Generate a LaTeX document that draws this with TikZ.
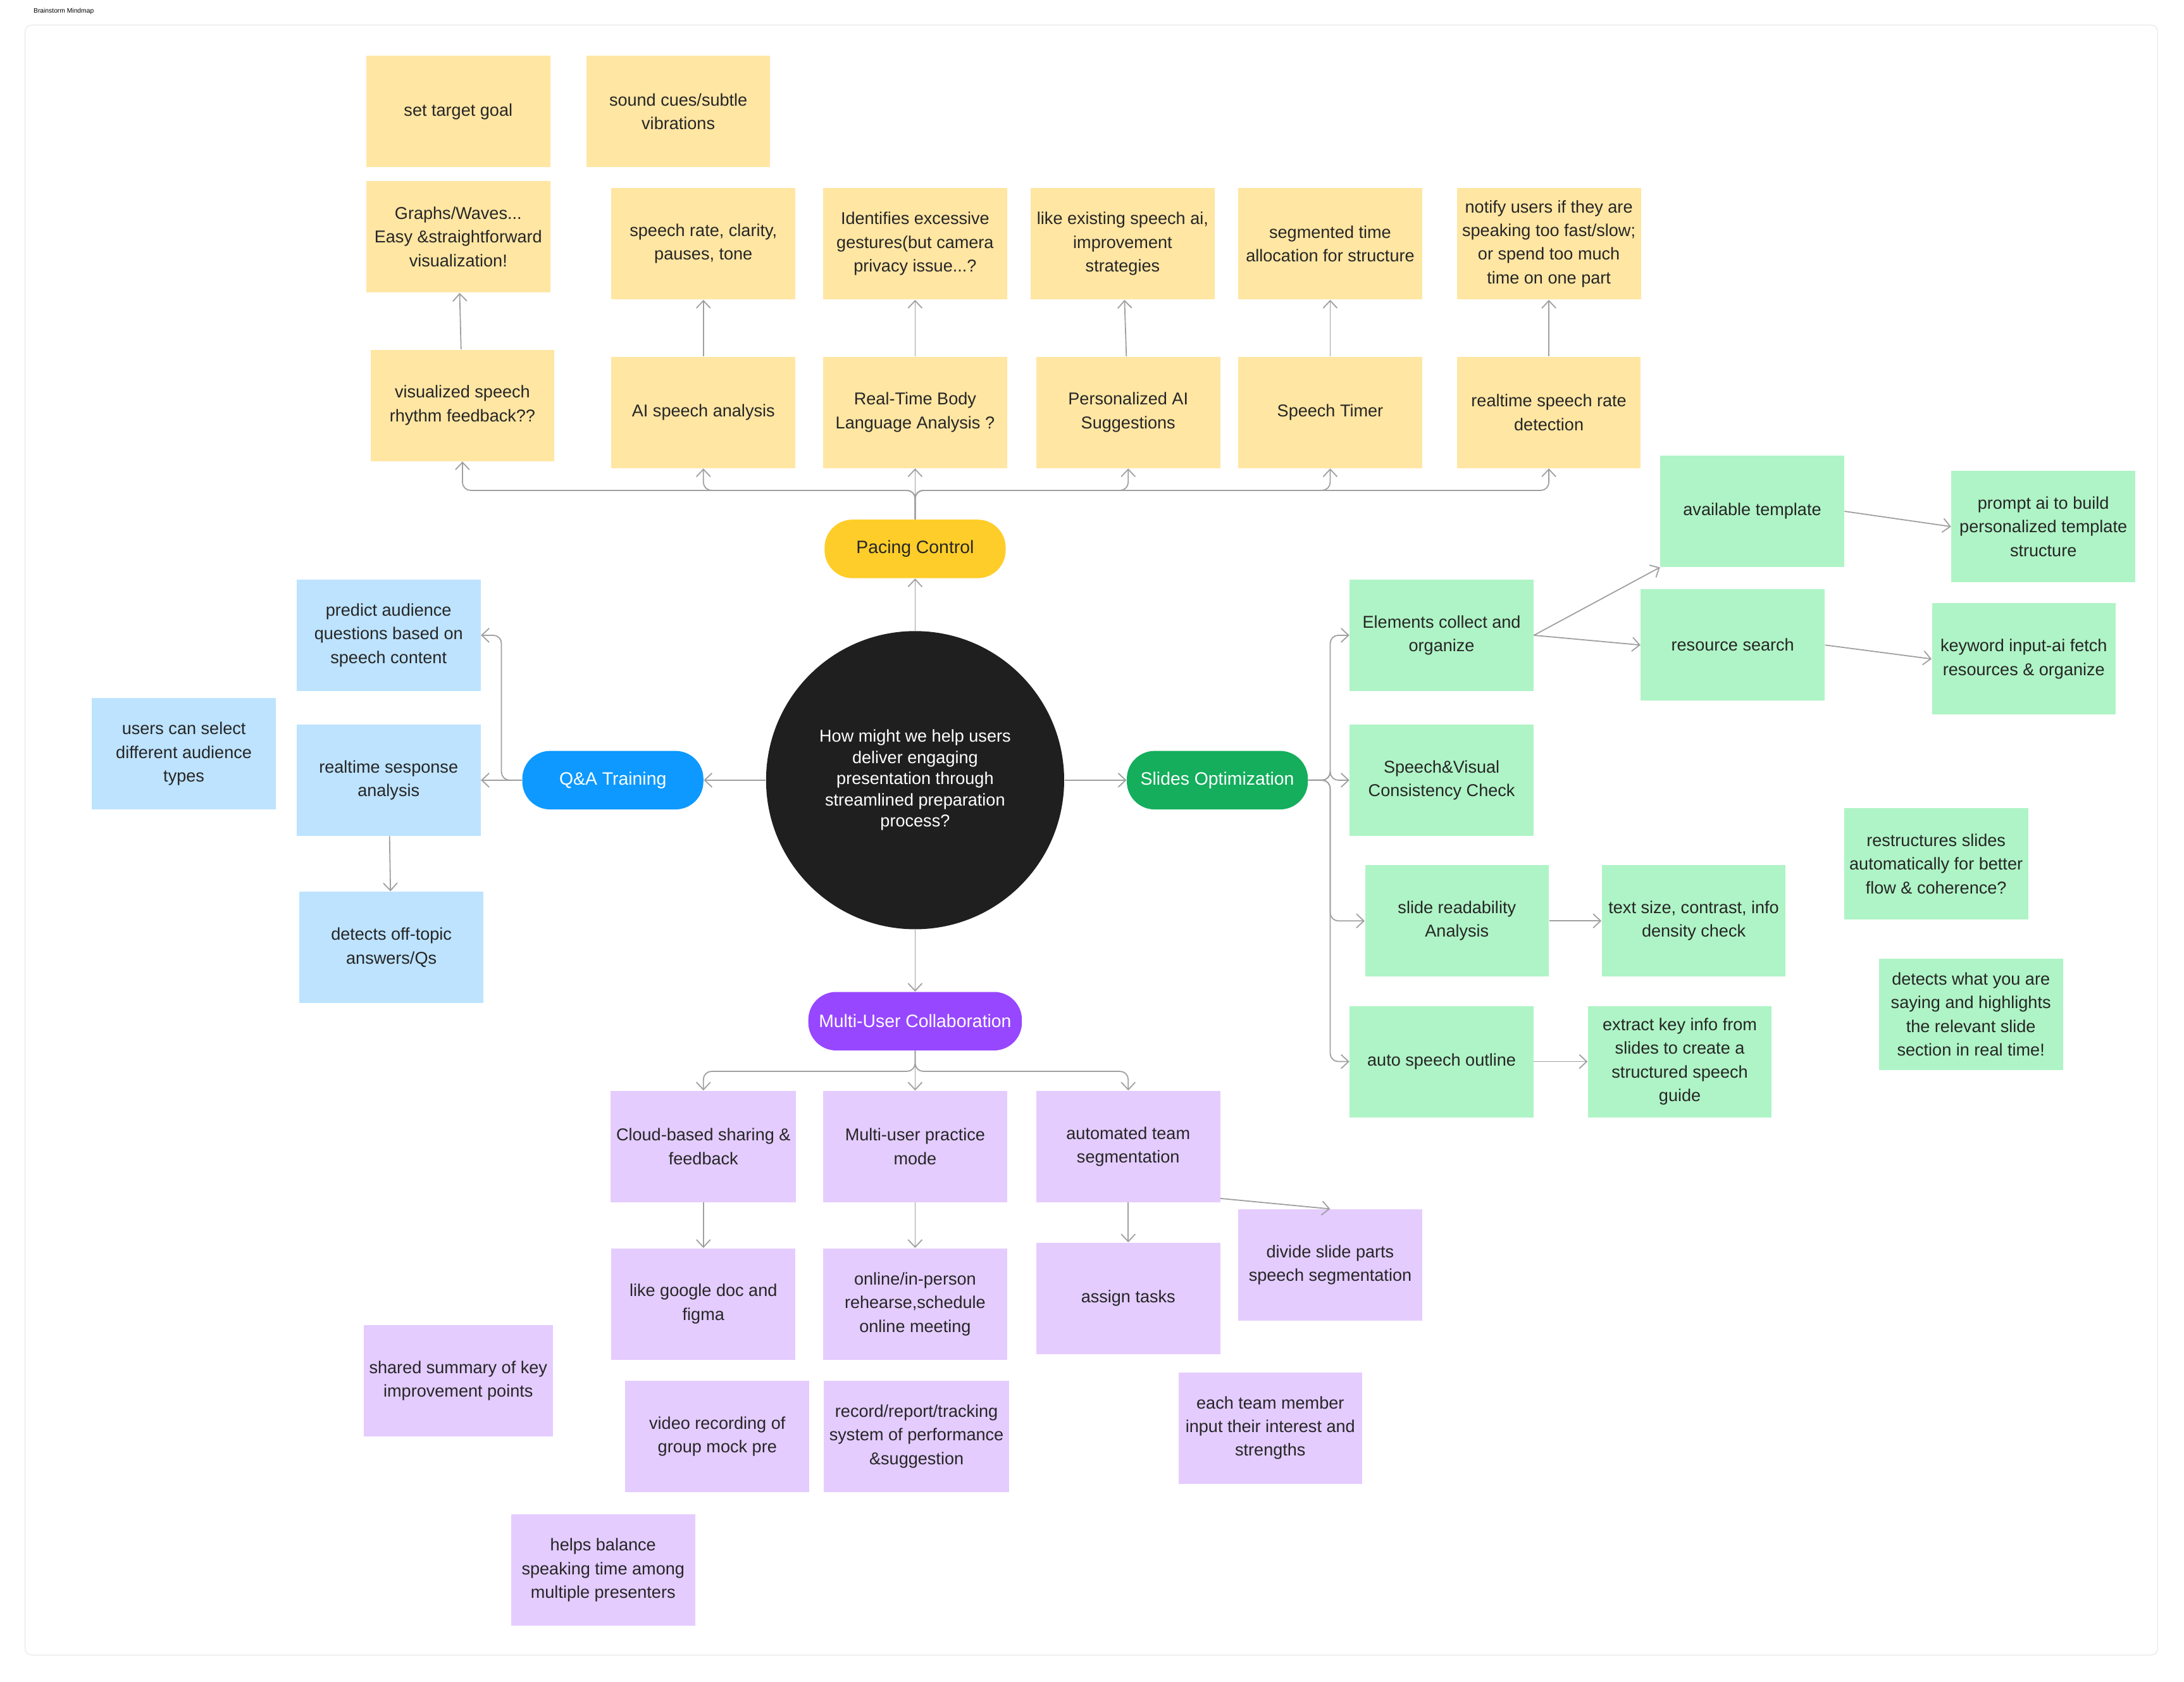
\documentclass[tikz,border=0pt]{standalone}
\usepackage{fontspec}
\setmainfont{Liberation Sans}
\usetikzlibrary{arrows.meta}
\definecolor{yel}{HTML}{FFE6A3}
\definecolor{grn}{HTML}{AFF4C6}
\definecolor{blu}{HTML}{BDE3FF}
\definecolor{pur}{HTML}{E4CCFF}
\definecolor{pacec}{HTML}{FFCD29}
\definecolor{qac}{HTML}{0D99FF}
\definecolor{slic}{HTML}{14AE5C}
\definecolor{mulc}{HTML}{9747FF}
\definecolor{linec}{HTML}{A0A0A0}
\begin{document}
\begin{tikzpicture}[x=0.03cm,y=-0.03cm,
    note/.style={shape=rectangle, minimum width=3.96cm, minimum height=2.4cm, align=center,
                 font=\fontsize{10.5}{14.5}\selectfont, text=black!85},
    pill/.style={shape=rectangle, rounded corners=0.6cm, minimum width=3.9cm, minimum height=1.26cm,
                 font=\fontsize{11}{13}\selectfont, text=black!85},
    conn/.style={draw=linec, line width=0.7pt, -{Straight Barb[length=1.6mm,width=3mm]}}]
    \useasboundingbox (0,0) rectangle (1568,1207);
    \draw[black!10, rounded corners=4pt] (18,18) rectangle (1549,1188);
    \node[anchor=west, font=\fontsize{4}{5}\selectfont] at (20,8) {Brainstorm Mindmap};

    % centre
    \node[circle, fill=black!88, minimum size=6.42cm, align=center, text=white,
          font=\fontsize{10.5}{13}\selectfont] (hmw) at (657,560)
          {How might we help users\\deliver engaging\\presentation through\\streamlined preparation\\process?};
    \node[pill, fill=pacec] (pace) at (657,394) {Pacing Control};
    \node[pill, fill=qac, text=white] (qa) at (440,560) {Q\&A Training};
    \node[pill, fill=slic, text=white] (slides) at (874,560) {Slides Optimization};
    \node[pill, fill=mulc, text=white, minimum width=4.6cm] (multi) at (657,733) {Multi-User Collaboration};

    % pacing
    \node[note, fill=yel] (goal) at (329,80) {set target goal};
    \node[note, fill=yel] (cues) at (487,80) {sound cues/subtle\\vibrations};
    \node[note, fill=yel] (graphs) at (329,170) {Graphs/Waves...\\Easy \&straightforward\\visualization!};
    \node[note, fill=yel] (rate) at (505,175) {speech rate, clarity,\\pauses, tone};
    \node[note, fill=yel] (gest) at (657,175) {Identifies excessive\\gestures(but camera\\privacy issue...?};
    \node[note, fill=yel] (exist) at (806,175) {like existing speech ai,\\improvement\\strategies};
    \node[note, fill=yel] (segm) at (955,175) {segmented time\\allocation for structure};
    \node[note, fill=yel] (notify) at (1112,175) {notify users if they are\\speaking too fast/slow;\\or spend too much\\time on one part};
    \node[note, fill=yel] (rhythm) at (332,291) {visualized speech\\rhythm feedback??};
    \node[note, fill=yel] (aian) at (505,296) {AI speech analysis};
    \node[note, fill=yel] (body) at (657,296) {Real-Time Body\\Language Analysis ?};
    \node[note, fill=yel] (sugg) at (810,296) {Personalized AI\\Suggestions};
    \node[note, fill=yel] (timer) at (955,296) {Speech Timer};
    \node[note, fill=yel] (detect) at (1112,296) {realtime speech rate\\detection};

    % q&a
    \node[note, fill=blu] (predict) at (279,456) {predict audience\\questions based on\\speech content};
    \node[note, fill=blu] (resp) at (279,560) {realtime sesponse\\analysis};
    \node[note, fill=blu] (offt) at (281,680) {detects off-topic\\answers/Qs};
    \node[note, fill=blu] (aud) at (132,541) {users can select\\different audience\\types};

    % slides
    \node[note, fill=grn] (elem) at (1035,456) {Elements collect and\\organize};
    \node[note, fill=grn] (templ) at (1258,367) {available template};
    \node[note, fill=grn] (prompt) at (1467,378) {prompt ai to build\\personalized template\\structure};
    \node[note, fill=grn] (search) at (1244,463) {resource search};
    \node[note, fill=grn] (keyw) at (1453,473) {keyword input-ai fetch\\resources \& organize};
    \node[note, fill=grn] (cons) at (1035,560) {Speech\&Visual\\Consistency Check};
    \node[note, fill=grn] (read) at (1046,661) {slide readability\\Analysis};
    \node[note, fill=grn] (size) at (1216,661) {text size, contrast, info\\density check};
    \node[note, fill=grn] (restr) at (1390,620) {restructures slides\\automatically for better\\flow \& coherence?};
    \node[note, fill=grn] (highl) at (1415,728) {detects what you are\\saying and highlights\\the relevant slide\\section in real time!};
    \node[note, fill=grn] (outl) at (1035,762) {auto speech outline};
    \node[note, fill=grn] (extr) at (1206,762) {extract key info from\\slides to create a\\structured speech\\guide};

    % multi-user
    \node[note, fill=pur] (cloud) at (505,823) {Cloud-based sharing \&\\feedback};
    \node[note, fill=pur] (pract) at (657,823) {Multi-user practice\\mode};
    \node[note, fill=pur] (team) at (810,823) {automated team\\segmentation};
    \node[note, fill=pur] (gdoc) at (505,936) {like google doc and\\figma};
    \node[note, fill=pur] (onl) at (657,936) {online/in-person\\rehearse,schedule\\online meeting};
    \node[note, fill=pur] (tasks) at (810,932) {assign tasks};
    \node[note, fill=pur] (divide) at (955,908) {divide slide parts\\speech segmentation};
    \node[note, fill=pur] (summ) at (329,991) {shared summary of key\\improvement points};
    \node[note, fill=pur] (video) at (515,1031) {video recording of\\group mock pre};
    \node[note, fill=pur] (track) at (658,1031) {record/report/tracking\\system of performance\\\&suggestion};
    \node[note, fill=pur] (memb) at (912,1025) {each team member\\input their interest and\\strengths};
    \node[note, fill=pur] (bal) at (433,1127) {helps balance\\speaking time among\\multiple presenters};

    % connectors
    \draw[conn] (hmw) -- (pace);
    \draw[conn] (hmw) -- (qa);
    \draw[conn] (hmw) -- (slides);
    \draw[conn] (hmw) -- (multi);

    \coordinate (pj) at (657,352);
    \foreach \c in {rhythm,aian,body,sugg,timer,detect}
        \draw[conn, rounded corners=5pt] (pace.north) -- (pace.north |- pj) -| (\c.south);
    \draw[conn] (rhythm) -- (graphs);
    \draw[conn] (aian) -- (rate);
    \draw[conn] (body) -- (gest);
    \draw[conn] (sugg) -- (exist);
    \draw[conn] (timer) -- (segm);
    \draw[conn] (detect) -- (notify);

    \coordinate (qj) at (360,560);
    \draw[conn, rounded corners=5pt] (qa.west) -- (qj) |- (predict.east);
    \draw[conn] (qa.west) -- (resp.east);
    \draw[conn] (resp) -- (offt);

    \coordinate (sj) at (955,560);
    \foreach \c in {elem,cons,outl}
        \draw[conn, rounded corners=5pt] (slides.east) -- (sj) |- (\c.west);
    \draw[conn, rounded corners=5pt] (slides.east) -- (sj) |- (read.west);
    \draw[conn] (elem.east) -- (templ.south west);
    \draw[conn] (elem.east) -- (search.west);
    \draw[conn] (templ.east) -- (prompt.west);
    \draw[conn] (search.east) -- (keyw.west);
    \draw[conn] (read) -- (size);
    \draw[conn] (outl) -- (extr);

    \coordinate (mj) at (657,769);
    \foreach \c in {cloud,pract,team}
        \draw[conn, rounded corners=5pt] (multi.south) -- (multi.south |- mj) -| (\c.north);
    \draw[conn] (cloud) -- (gdoc);
    \draw[conn] (pract) -- (onl);
    \draw[conn] (team) -- (tasks);
    \draw[conn] (team.south east) ++(0,-3) -- (divide.north);
\end{tikzpicture}
\end{document}
